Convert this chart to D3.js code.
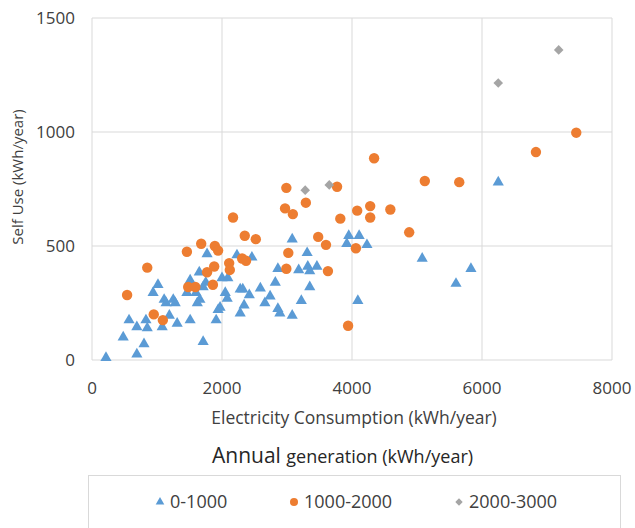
<!DOCTYPE html>
<html lang="en">
<head>
    <meta charset="UTF-8">
    <title>Self Use vs Electricity Consumption</title>
    <script src="https://d3js.org/d3.v7.min.js"></script>
    <style>
        body {
            margin: 0;
            background: #fff;
            font-family: "Open Sans", Arial, sans-serif;
        }
        .grid line {
            stroke: #d9d9d9;
            stroke-width: 1;
        }
        .tick-label {
            font-size: 17px;
            fill: #404040;
        }
        .axis-title {
            fill: #404040;
        }
        .legend-text {
            font-size: 18px;
            fill: #404040;
        }
    </style>
</head>
<body>
    <svg id="chart"></svg>

    <script>
        // Series: [consumption kWh/year, self use kWh/year]
        const gen0to1000 = [
            [215, 10], [480, 100], [570, 175], [690, 145], [690, 25], [800, 70],
            [830, 175], [850, 140], [940, 295], [1015, 330], [1080, 145], [1110, 265],
            [1140, 250], [1190, 195], [1250, 265], [1280, 250], [1310, 160], [1460, 295],
            [1510, 350], [1540, 325], [1510, 175], [1600, 295], [1650, 385], [1620, 250],
            [1660, 265], [1710, 80], [1710, 320], [1750, 340], [1770, 465], [1910, 175],
            [1940, 220], [1970, 230], [2000, 360], [2090, 360], [2050, 295], [2080, 270],
            [2230, 460], [2460, 450], [2280, 310], [2320, 310], [2420, 285], [2340, 240],
            [2280, 205], [2590, 315], [2660, 250], [2740, 280], [2820, 340], [2860, 400],
            [2860, 225], [2890, 205], [3080, 530], [3080, 195], [3220, 260], [3180, 395],
            [3310, 470], [3320, 410], [3350, 390], [3460, 410], [3350, 320], [3920, 510],
            [3950, 545], [4110, 545], [4230, 505], [4090, 260], [5080, 445], [5600, 335],
            [5830, 400], [6250, 780]
        ];
        const gen1000to2000 = [
            [540, 285], [850, 405], [950, 200], [1090, 175], [1460, 475], [1480, 320],
            [1590, 320], [1680, 510], [1770, 385], [1890, 500], [1940, 480], [1880, 410],
            [1860, 330], [2110, 425], [2120, 395], [2170, 625], [2310, 445], [2370, 435],
            [2350, 545], [2520, 530], [2970, 665], [2990, 755], [3090, 640], [3020, 470],
            [2990, 400], [3290, 690], [3480, 540], [3600, 505], [3630, 390], [3770, 760],
            [3820, 620], [3940, 150], [4060, 490], [4080, 655], [4280, 675], [4280, 625],
            [4340, 885], [4590, 660], [4880, 560], [5120, 785], [5650, 780], [6830, 912],
            [7450, 997]
        ];
        const gen2000to3000 = [
            [3280, 745], [3650, 768], [6250, 1215], [7180, 1360]
        ];

        const seriesNames = ["0-1000", "1000-2000", "2000-3000"];
        const seriesColors = ["#5b9bd5", "#ed7d31", "#a5a5a5"];
        const xTicks = [0, 2000, 4000, 6000, 8000];
        const yTicks = [0, 500, 1000, 1500];

        const width = 635;
        const height = 528;
        const plot = {left: 92, right: 612, top: 18, bottom: 360};

        const svg = d3.select("#chart")
            .attr("width", width)
            .attr("height", height);

        const x = d3.scaleLinear().domain([0, 8000]).range([plot.left, plot.right]);
        const y = d3.scaleLinear().domain([0, 1500]).range([plot.bottom, plot.top]);

        // marker shapes: triangle, circle, diamond (square turned 45deg)
        function marker(i, s) {
            if (i === 0) return d3.symbol().type(d3.symbolTriangle).size(54 * s)();
            if (i === 1) return d3.symbol().type(d3.symbolCircle).size(85 * s)();
            return d3.symbol().type(d3.symbolSquare).size(46 * s)();
        }
        const markerRotate = [0, 0, 45];

        // Gridlines
        const grid = svg.append("g").attr("class", "grid");
        grid.selectAll(".gx")
            .data(xTicks)
            .enter().append("line")
            .attr("x1", d => x(d)).attr("x2", d => x(d))
            .attr("y1", plot.top).attr("y2", plot.bottom);
        grid.selectAll(".gy")
            .data(yTicks)
            .enter().append("line")
            .attr("x1", plot.left).attr("x2", plot.right)
            .attr("y1", d => y(d)).attr("y2", d => y(d));

        // Tick labels
        svg.append("g").selectAll("text")
            .data(xTicks)
            .enter().append("text")
            .attr("class", "tick-label")
            .attr("x", d => x(d))
            .attr("y", plot.bottom + 34)
            .attr("text-anchor", "middle")
            .text(d => d);
        svg.append("g").selectAll("text")
            .data(yTicks)
            .enter().append("text")
            .attr("class", "tick-label")
            .attr("x", plot.left - 17)
            .attr("y", d => y(d) + 6)
            .attr("text-anchor", "end")
            .text(d => d);

        // Axis titles
        svg.append("text")
            .attr("class", "axis-title")
            .attr("font-size", 17.5)
            .attr("x", 354)
            .attr("y", 424)
            .attr("text-anchor", "middle")
            .text("Electricity Consumption (kWh/year)");
        svg.append("text")
            .attr("class", "axis-title")
            .attr("font-size", 15)
            .attr("transform", "translate(23, 177) rotate(-90)")
            .attr("text-anchor", "middle")
            .text("Self Use (kWh/year)");

        // Points
        const allSeries = [gen0to1000, gen1000to2000, gen2000to3000];
        allSeries.forEach((data, i) => {
            svg.append("g").selectAll("path")
                .data(data)
                .enter().append("path")
                .attr("transform", d => `translate(${x(d[0])}, ${y(d[1])}) rotate(${markerRotate[i]})`)
                .attr("d", marker(i, 1))
                .attr("fill", seriesColors[i]);
        });

        // Legend title
        const legendTitle = svg.append("text")
            .attr("x", 212)
            .attr("y", 463)
            .attr("fill", "#262626");
        legendTitle.append("tspan").attr("font-size", 21).text("Annual ");
        legendTitle.append("tspan").attr("font-size", 18).text("generation (kWh/year)");

        // Legend box
        svg.append("rect")
            .attr("x", 88.5).attr("y", 475.5)
            .attr("width", 532).attr("height", 70)
            .attr("fill", "none")
            .attr("stroke", "#d9d9d9");

        const legendX = [160, 294, 459];
        const legend = svg.append("g").selectAll("g")
            .data(seriesNames)
            .enter().append("g")
            .attr("transform", (d, i) => `translate(${legendX[i]}, 502)`);
        legend.append("path")
            .attr("transform", (d, i) => `rotate(${markerRotate[i]})`)
            .attr("d", (d, i) => marker(i, 0.6))
            .attr("fill", (d, i) => seriesColors[i]);
        legend.append("text")
            .attr("class", "legend-text")
            .attr("x", 10)
            .attr("y", 6)
            .text(d => d);
    </script>
</body>
</html>
